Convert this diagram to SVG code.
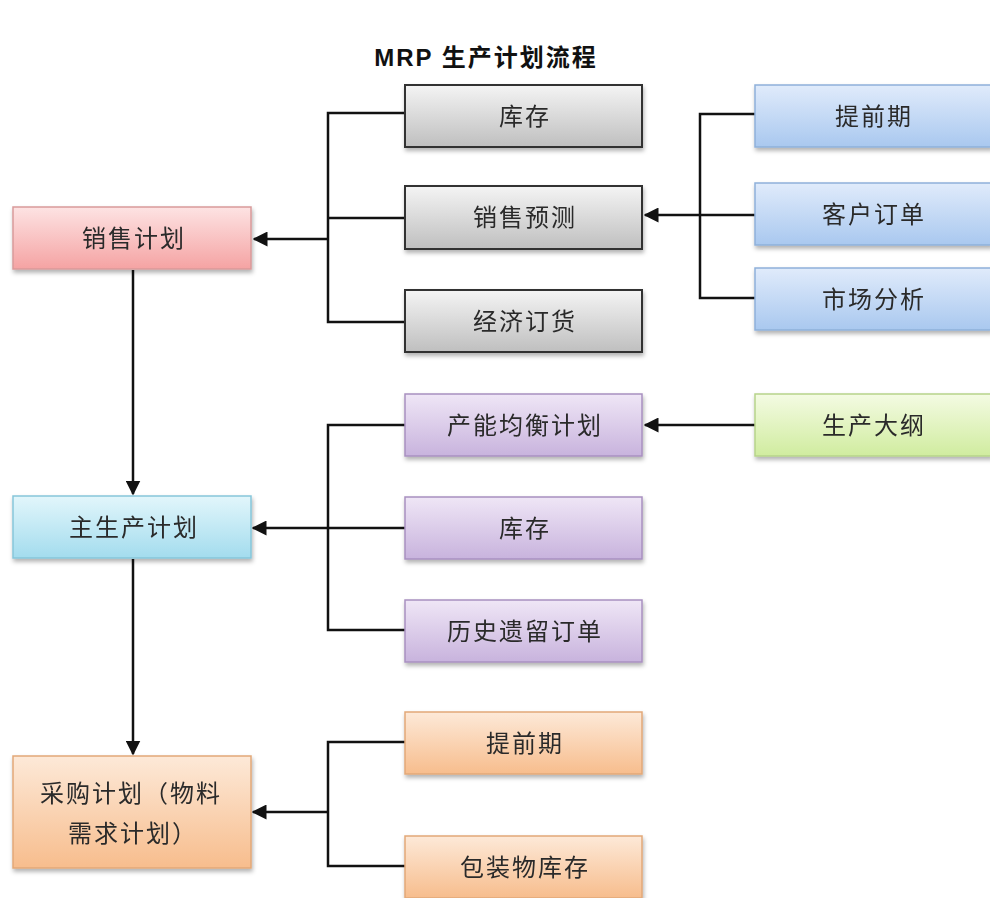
<svg xmlns="http://www.w3.org/2000/svg" width="990" height="898" viewBox="0 0 990 898">
<style>
text{font-family:"Liberation Sans","Noto Sans CJK SC",sans-serif;fill:#2a2a2a;font-size:24px;letter-spacing:2px;text-anchor:middle;dominant-baseline:central}
.title{font-size:24px;font-weight:bold;fill:#111;letter-spacing:2px}
.left{text-anchor:start}
.conn{fill:none;stroke:#111;stroke-width:2.5}
.gray{fill:url(#gGray);stroke:#333;stroke-width:2}
.pink{fill:url(#gPink);stroke:#d99a9a;stroke-width:1.5}
.cyan{fill:url(#gCyan);stroke:#86c6da;stroke-width:1.5}
.orange{fill:url(#gOrange);stroke:#e2a878;stroke-width:1.5}
.blue{fill:url(#gBlue);stroke:#8eb0da;stroke-width:1.5}
.green{fill:url(#gGreen);stroke:#b6d48a;stroke-width:1.5}
.purple{fill:url(#gPurple);stroke:#a890c0;stroke-width:1.5}
.box{filter:url(#sh)}
</style>
<defs>
<linearGradient id="gGray" x1="0" y1="0" x2="0" y2="1"><stop offset="0" stop-color="#f4f4f4"/><stop offset="1" stop-color="#bfbfbf"/></linearGradient>
<linearGradient id="gPink" x1="0" y1="0" x2="0" y2="1"><stop offset="0" stop-color="#fde3e3"/><stop offset="1" stop-color="#f5a3a3"/></linearGradient>
<linearGradient id="gCyan" x1="0" y1="0" x2="0" y2="1"><stop offset="0" stop-color="#e2f6fb"/><stop offset="1" stop-color="#a3dcee"/></linearGradient>
<linearGradient id="gOrange" x1="0" y1="0" x2="0" y2="1"><stop offset="0" stop-color="#fde9d8"/><stop offset="1" stop-color="#f7bd8d"/></linearGradient>
<linearGradient id="gBlue" x1="0" y1="0" x2="0" y2="1"><stop offset="0" stop-color="#e0ebfb"/><stop offset="1" stop-color="#a9c8ef"/></linearGradient>
<linearGradient id="gGreen" x1="0" y1="0" x2="0" y2="1"><stop offset="0" stop-color="#f4fbe3"/><stop offset="1" stop-color="#d0ec9f"/></linearGradient>
<linearGradient id="gPurple" x1="0" y1="0" x2="0" y2="1"><stop offset="0" stop-color="#efe6f6"/><stop offset="1" stop-color="#c8b3dd"/></linearGradient>
<filter id="sh" x="-10%" y="-20%" width="120%" height="150%"><feDropShadow dx="1" dy="3" stdDeviation="2" flood-color="#000" flood-opacity="0.3"/></filter>
<marker id="arr" viewBox="0 0 10 10" refX="9" refY="5" markerWidth="6" markerHeight="6" markerUnits="strokeWidth" orient="auto"><path d="M0,0 L10,5 L0,10 z" fill="#111"/></marker>
</defs>
<rect width="990" height="898" fill="#fff"/>
<text class="title" x="486" y="57">MRP 生产计划流程</text>

<g id="connectors">
<path class="conn" d="M405,113 H328 V322 H405 M405,218 H328"/>
<path class="conn" d="M328,239 H254" marker-end="url(#arr)"/>
<path class="conn" d="M755,114 H700 V298 H755 M755,215 H700"/>
<path class="conn" d="M700,215 H645" marker-end="url(#arr)"/>
<path class="conn" d="M755,425 H645" marker-end="url(#arr)"/>
<path class="conn" d="M405,425 H328 V630 H405 M405,528 H328"/>
<path class="conn" d="M328,528 H253" marker-end="url(#arr)"/>
<path class="conn" d="M405,742 H328 V866 H405"/>
<path class="conn" d="M328,812 H253" marker-end="url(#arr)"/>
<path class="conn" d="M133,270 V494" marker-end="url(#arr)"/>
<path class="conn" d="M133,559 V754" marker-end="url(#arr)"/>
</g>

<g id="n-sales-plan" class="box"><rect class="pink" x="13" y="207" width="238" height="62"/><text x="134" y="238">销售计划</text></g>
<g id="n-mps" class="box"><rect class="cyan" x="13" y="496" width="238" height="62"/><text x="134" y="527">主生产计划</text></g>
<g id="n-purchase" class="box"><rect class="orange" x="13" y="756" width="238" height="112"/><text class="left" x="40" y="793">采购计划（物料</text><text class="left" x="68" y="833">需求计划）</text></g>

<g id="n-inv1" class="box"><rect class="gray" x="405" y="85" width="237" height="62"/><text x="525" y="116">库存</text></g>
<g id="n-forecast" class="box"><rect class="gray" x="405" y="186" width="237" height="63"/><text x="525" y="217">销售预测</text></g>
<g id="n-eoq" class="box"><rect class="gray" x="405" y="290" width="237" height="62"/><text x="525" y="321">经济订货</text></g>

<g id="n-lead1" class="box"><rect class="blue" x="755" y="85" width="237" height="62"/><text x="874" y="116">提前期</text></g>
<g id="n-order" class="box"><rect class="blue" x="755" y="183" width="237" height="62"/><text x="874" y="214">客户订单</text></g>
<g id="n-market" class="box"><rect class="blue" x="755" y="268" width="237" height="62"/><text x="874" y="299">市场分析</text></g>

<g id="n-outline" class="box"><rect class="green" x="755" y="394" width="237" height="62"/><text x="874" y="425">生产大纲</text></g>

<g id="n-capacity" class="box"><rect class="purple" x="405" y="394" width="237" height="62"/><text x="525" y="425">产能均衡计划</text></g>
<g id="n-inv2" class="box"><rect class="purple" x="405" y="497" width="237" height="62"/><text x="525" y="528">库存</text></g>
<g id="n-legacy" class="box"><rect class="purple" x="405" y="600" width="237" height="62"/><text x="525" y="631">历史遗留订单</text></g>

<g id="n-lead2" class="box"><rect class="orange" x="405" y="712" width="237" height="62"/><text x="525" y="743">提前期</text></g>
<g id="n-pack" class="box"><rect class="orange" x="405" y="836" width="237" height="62"/><text x="525" y="867">包装物库存</text></g>
</svg>
